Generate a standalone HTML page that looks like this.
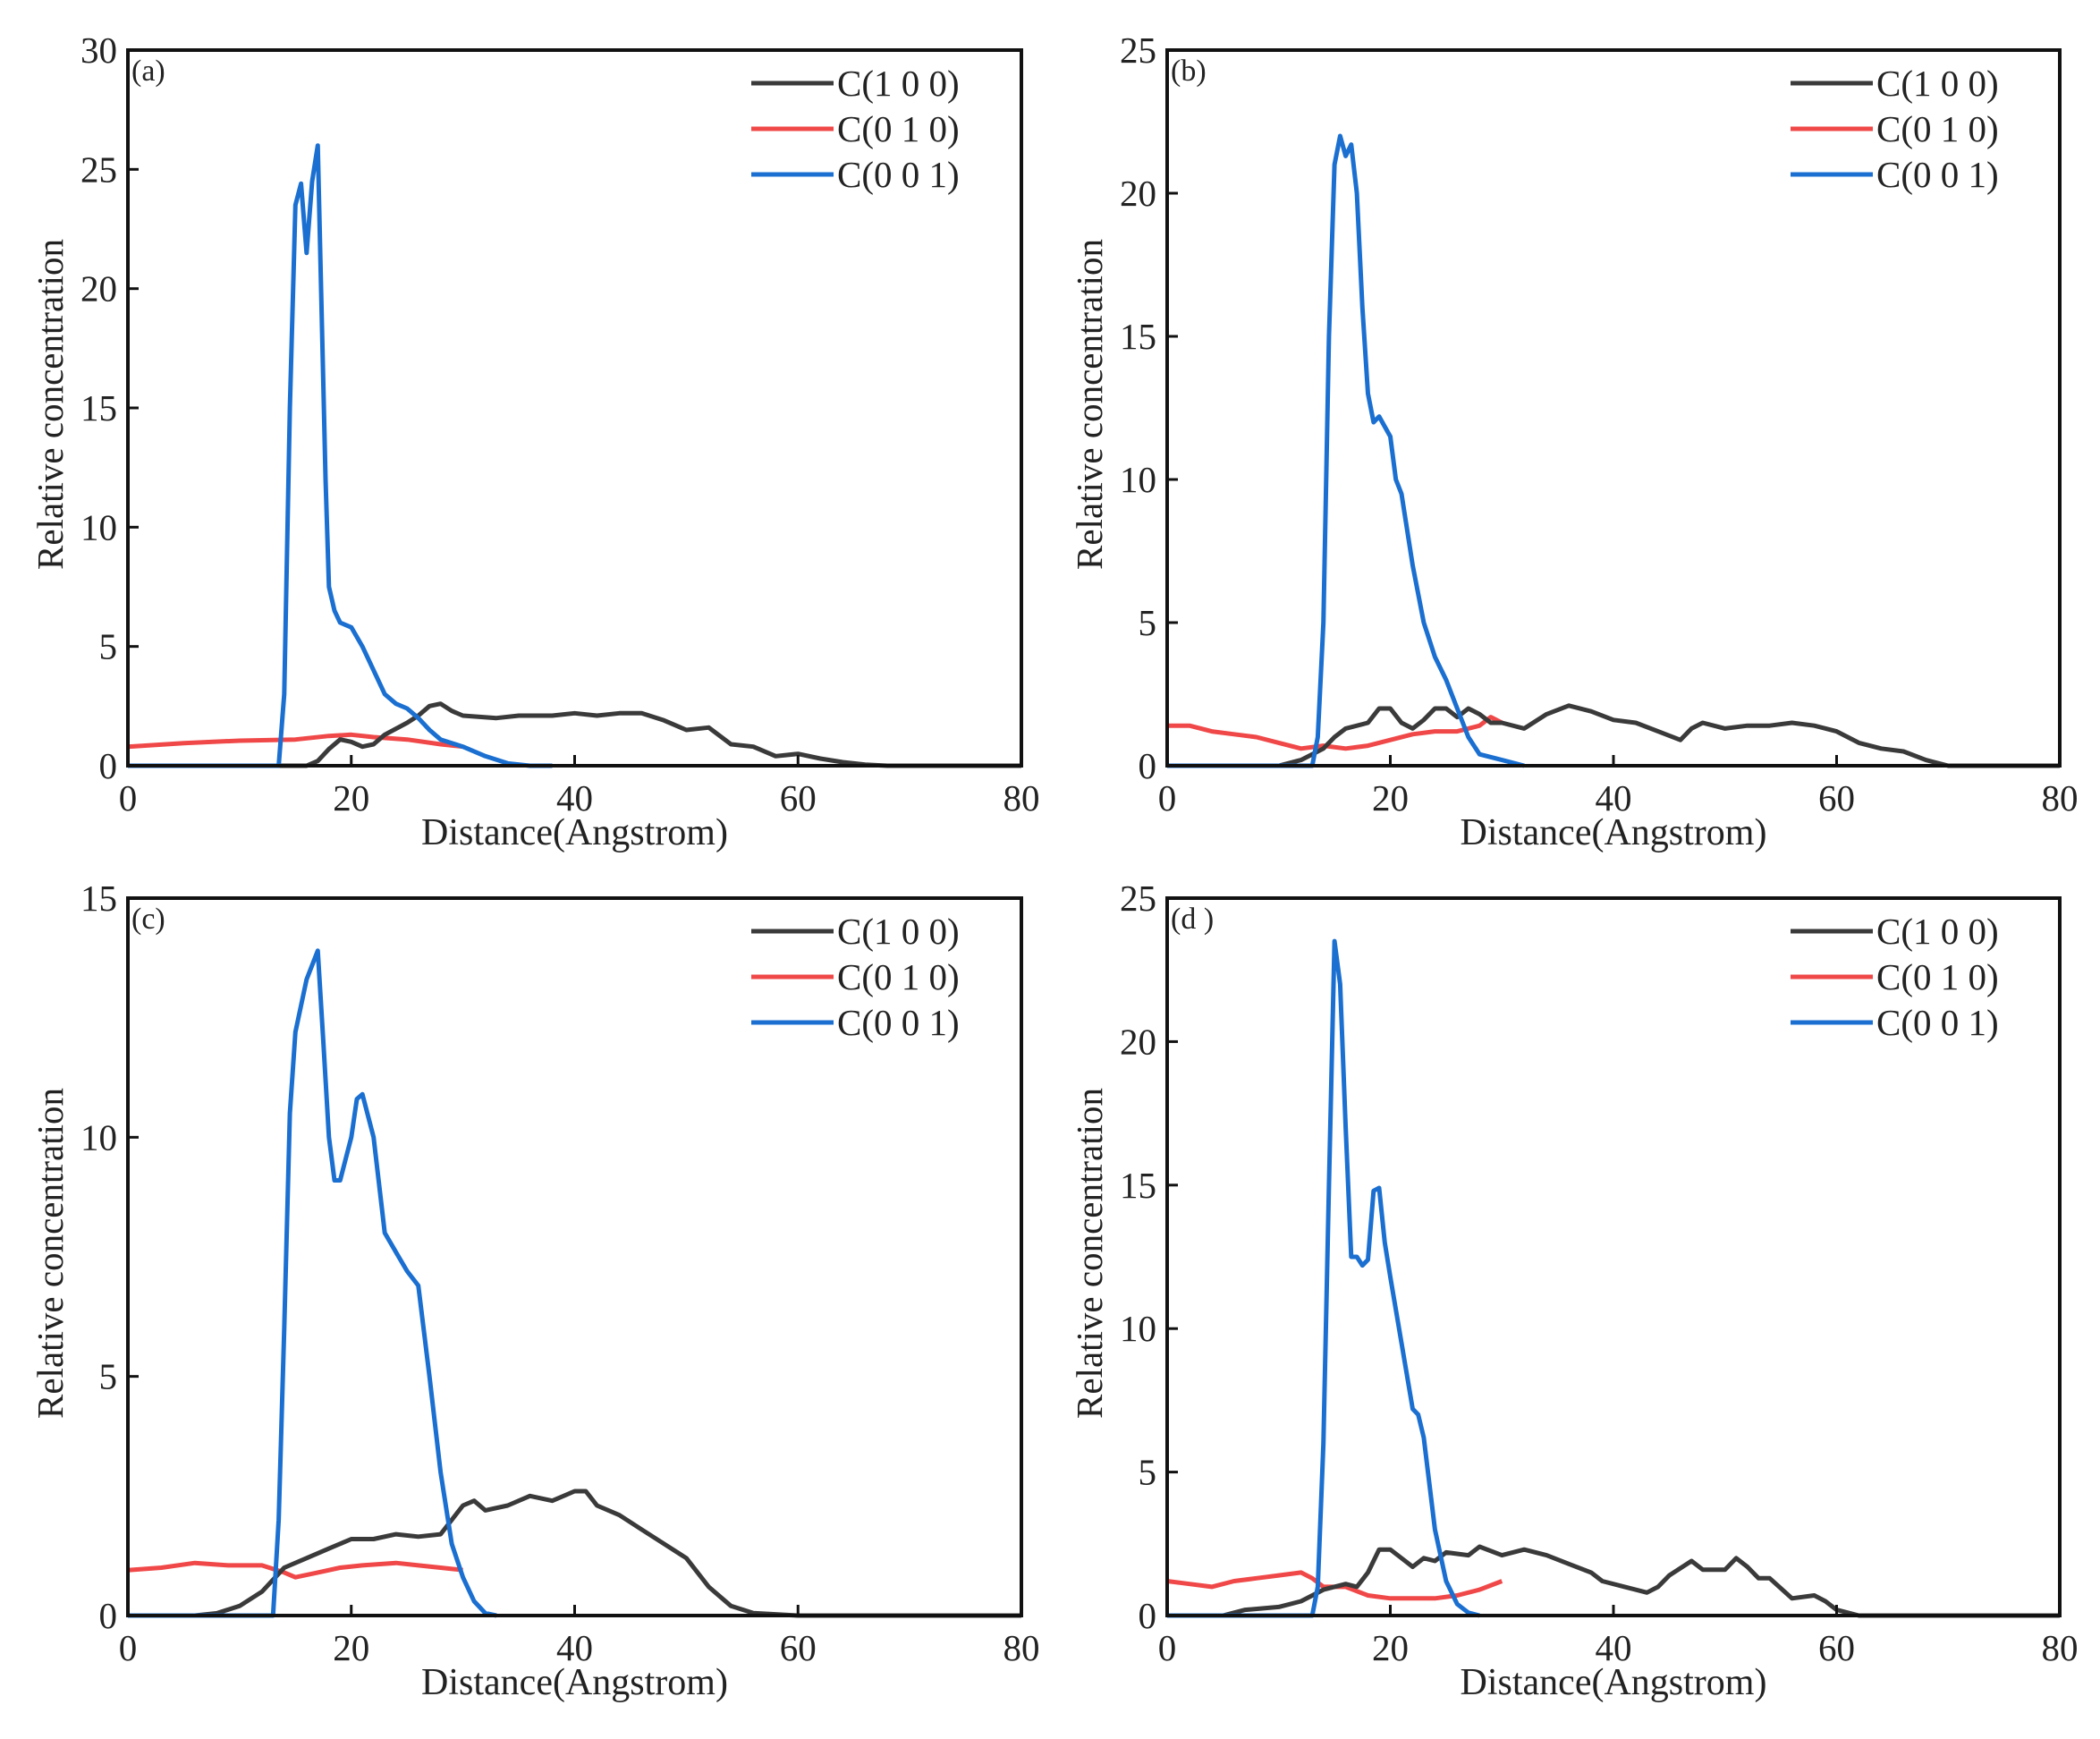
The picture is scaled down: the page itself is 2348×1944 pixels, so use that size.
<!DOCTYPE html>
<html><head><meta charset="utf-8"><style>
html,body{margin:0;padding:0;background:#fff;}
svg{display:block;font-family:"Liberation Serif",serif;}
</style></head><body>
<svg id="s" width="2348" height="1944" viewBox="0 0 2348 1944" xmlns="http://www.w3.org/2000/svg"></svg>
<script>
const S=document.getElementById('s');
const NS='http://www.w3.org/2000/svg';
function el(t,a,txt){const e=document.createElementNS(NS,t);for(const k in a)e.setAttribute(k,a[k]);if(txt!==undefined)e.textContent=txt;S.appendChild(e);return e;}
const panels=[
{x0:143,x1:1142,y0:856,y1:56,ymax:30,yt:[0,5,10,15,20,25,30],lab:'(a)',
 blue:[[0,0],[13.5,0],[14,3],[14.5,15],[15,23.5],[15.5,24.4],[16,21.5],[16.5,24.5],[17,26],[17.3,20],[17.7,12],[18,7.5],[18.5,6.5],[19,6],[20,5.8],[21,5],[22,4],[23,3],[24,2.6],[25,2.4],[26,2],[27,1.5],[28,1.1],[30,0.8],[32,0.4],[34,0.1],[36,0],[38,0]],
 black:[[0,0],[16,0],[17,0.2],[18,0.7],[19,1.1],[20,1.0],[21,0.8],[22,0.9],[23,1.3],[25,1.8],[26,2.1],[27,2.5],[28,2.6],[29,2.3],[30,2.1],[33,2.0],[35,2.1],[38,2.1],[40,2.2],[42,2.1],[44,2.2],[46,2.2],[48,1.9],[50,1.5],[52,1.6],[54,0.9],[56,0.8],[58,0.4],[60,0.5],[62,0.3],[64,0.15],[66,0.05],[68,0],[80,0]],
 red:[[0,0.8],[5,0.95],[10,1.05],[15,1.1],[18,1.25],[20,1.3],[22,1.2],[25,1.1],[28,0.9],[30,0.8]]},
{x0:1305,x1:2303,y0:856,y1:56,ymax:25,yt:[0,5,10,15,20,25],lab:'(b)',
 blue:[[0,0],[13,0],[13.5,1],[14,5],[14.5,15],[15,21],[15.5,22],[16,21.3],[16.5,21.7],[17,20],[17.5,16],[18,13],[18.5,12],[19,12.2],[20,11.5],[20.5,10],[21,9.5],[22,7],[23,5],[24,3.8],[25,3],[26,2],[27,1],[28,0.4],[30,0.2],[32,0]],
 black:[[0,0],[10,0],[12,0.2],[14,0.6],[15,1.0],[16,1.3],[18,1.5],[19,2.0],[20,2.0],[21,1.5],[22,1.3],[23,1.6],[24,2.0],[25,2.0],[26,1.7],[27,2.0],[28,1.8],[29,1.5],[30,1.5],[32,1.3],[34,1.8],[36,2.1],[38,1.9],[40,1.6],[42,1.5],[44,1.2],[46,0.9],[47,1.3],[48,1.5],[50,1.3],[52,1.4],[54,1.4],[56,1.5],[58,1.4],[60,1.2],[62,0.8],[64,0.6],[66,0.5],[68,0.2],[70,0],[80,0]],
 red:[[0,1.4],[2,1.4],[4,1.2],[6,1.1],[8,1.0],[10,0.8],[12,0.6],[14,0.7],[16,0.6],[18,0.7],[20,0.9],[22,1.1],[24,1.2],[26,1.2],[28,1.4],[29,1.7],[30,1.5]]},
{x0:143,x1:1142,y0:1806,y1:1004,ymax:15,yt:[0,5,10,15],lab:'(c)',
 blue:[[0,0],[13,0],[13.5,2],[14,6],[14.5,10.5],[15,12.2],[16,13.3],[17,13.9],[17.5,12],[18,10],[18.5,9.1],[19,9.1],[20,10],[20.5,10.8],[21,10.9],[22,10],[23,8],[24,7.6],[25,7.2],[26,6.9],[27,5],[28,3],[29,1.5],[30,0.8],[31,0.3],[32,0.05],[33,0]],
 black:[[0,0],[6,0],[8,0.05],[10,0.2],[12,0.5],[14,1.0],[16,1.2],[18,1.4],[20,1.6],[22,1.6],[24,1.7],[26,1.65],[28,1.7],[30,2.3],[31,2.4],[32,2.2],[34,2.3],[36,2.5],[38,2.4],[40,2.6],[41,2.6],[42,2.3],[44,2.1],[46,1.8],[48,1.5],[50,1.2],[52,0.6],[54,0.2],[56,0.05],[60,0],[80,0]],
 red:[[0,0.95],[3,1.0],[6,1.1],[9,1.05],[12,1.05],[14,0.9],[15,0.8],[17,0.9],[19,1.0],[21,1.05],[24,1.1],[26,1.05],[28,1.0],[30,0.95]]},
{x0:1305,x1:2303,y0:1806,y1:1004,ymax:25,yt:[0,5,10,15,20,25],lab:'(d )',
 blue:[[0,0],[13,0],[13.5,1],[14,6],[14.5,15],[15,23.5],[15.5,22],[16,17],[16.5,12.5],[17,12.5],[17.5,12.2],[18,12.4],[18.5,14.8],[19,14.9],[19.5,13],[20,11.8],[21,9.5],[22,7.2],[22.5,7],[23,6.2],[24,3],[25,1.2],[26,0.4],[27,0.1],[28,0]],
 black:[[0,0],[5,0],[7,0.2],[10,0.3],[12,0.5],[14,0.9],[16,1.1],[17,1.0],[18,1.5],[19,2.3],[20,2.3],[21,2.0],[22,1.7],[23,2.0],[24,1.9],[25,2.2],[27,2.1],[28,2.4],[30,2.1],[32,2.3],[34,2.1],[36,1.8],[38,1.5],[39,1.2],[41,1.0],[43,0.8],[44,1.0],[45,1.4],[47,1.9],[48,1.6],[50,1.6],[51,2.0],[52,1.7],[53,1.3],[54,1.3],[56,0.6],[58,0.7],[59,0.5],[60,0.2],[62,0],[80,0]],
 red:[[0,1.2],[2,1.1],[4,1.0],[6,1.2],[8,1.3],[10,1.4],[12,1.5],[13,1.3],[14,1.0],[16,1.0],[18,0.7],[20,0.6],[22,0.6],[24,0.6],[26,0.7],[28,0.9],[30,1.2]]}
];
panels.forEach(p=>{
 const X=v=>p.x0+(p.x1-p.x0)*v/80, Y=v=>p.y0-(p.y0-p.y1)*v/p.ymax;
 const line=(d,c)=>el('polyline',{points:d.map(q=>X(q[0]).toFixed(1)+','+Y(q[1]).toFixed(1)).join(' '),fill:'none',stroke:c,'stroke-width':5,'stroke-linejoin':'round'});
 line(p.red,'#f04848');line(p.black,'#3a3a3a');line(p.blue,'#1a6fd0');
 el('rect',{x:p.x0,y:p.y1,width:p.x1-p.x0,height:p.y0-p.y1,fill:'none',stroke:'#111','stroke-width':4});
 [0,20,40,60,80].forEach(v=>{el('line',{x1:X(v),x2:X(v),y1:p.y0,y2:p.y0-12,stroke:'#111','stroke-width':3});
  el('text',{x:X(v),y:p.y0+50,'font-size':41,'text-anchor':'middle',fill:'#222'},v);});
 p.yt.forEach(v=>{el('line',{x1:p.x0,x2:p.x0+12,y1:Y(v),y2:Y(v),stroke:'#111','stroke-width':3});
  el('text',{x:p.x0-12,y:Y(v)+14,'font-size':41,'text-anchor':'end',fill:'#222'},v);});
 el('text',{x:(p.x0+p.x1)/2,y:p.y0+88,'font-size':42,'text-anchor':'middle',fill:'#222'},'Distance(Angstrom)');
 const cy=(p.y0+p.y1)/2;
 el('text',{x:0,y:0,'font-size':41,'text-anchor':'middle',fill:'#222',transform:`translate(${p.x0-73},${cy-4}) rotate(-90)`},'Relative concentration');
 el('text',{x:p.x0+4,y:p.y1+34,'font-size':34,fill:'#222'},p.lab);
 const lx=p.x0+697,rows=[['C(1 0 0)','#3a3a3a'],['C(0 1 0)','#f04848'],['C(0 0 1)','#1a6fd0']];
 rows.forEach((r,i)=>{const yy=p.y1+37+i*51;
  el('line',{x1:lx,x2:lx+92,y1:yy,y2:yy,stroke:r[1],'stroke-width':5});
  el('text',{x:lx+96,y:yy+14,'font-size':41,fill:'#222'},r[0]);});
});
</script>
</body></html>
